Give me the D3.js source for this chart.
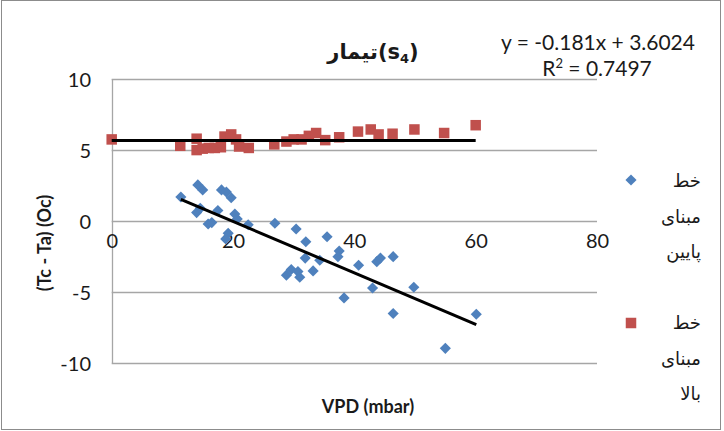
<!DOCTYPE html>
<html>
<head>
<meta charset="utf-8">
<script src="https://cdn.jsdelivr.net/npm/d3@7"></script>
<style>
  html, body { margin: 0; padding: 0; background: #fff; }
  svg { display: block; }
  text { font-family: Lato, "DejaVu Sans", sans-serif; fill: #1a1a1a; }
</style>
</head>
<body>
<svg id="chart" width="724" height="431"></svg>
<script>
// ---------- data ----------
const lowerX = [11.4, 14.2, 15.0, 14.0, 14.6, 15.9, 16.5, 17.5, 18.1, 18.9, 19.7, 19.2, 18.8, 20.3, 20.7, 22.5,
                26.9, 30.4, 32.0, 35.5, 31.9, 34.3, 28.8, 29.6, 30.7, 31.0, 33.2, 37.5, 37.3, 40.7, 38.3,
                43.0, 43.7, 44.3, 46.4, 49.8, 46.4, 55.0, 60.1];
const lowerY = [1.7, 2.55, 2.2, 0.6, 0.9, -0.2, -0.1, 0.75, 2.2, 2.05, 1.65, -0.85, -1.25, 0.5, 0.15, -0.25,
                -0.15, -0.55, -1.45, -1.1, -2.6, -2.75, -3.8, -3.4, -3.55, -3.95, -3.5, -2.1, -2.5, -3.1, -5.4,
                -4.7, -2.85, -2.6, -2.5, -4.65, -6.5, -8.95, -6.55];
const upperX = [0, 11.3, 14.0, 14.0, 15.0, 16.0, 17.0, 18.0, 18.6, 19.7, 20.5, 21.0, 22.6, 26.8, 28.8, 30.0,
                31.3, 32.5, 33.7, 35.2, 37.5, 40.6, 42.7, 44.0, 46.3, 49.9, 54.8, 60.0];
const upperY = [5.75, 5.3, 5.8, 5.0, 5.1, 5.15, 5.15, 5.2, 5.95, 6.1, 5.75, 5.25, 5.15, 5.4, 5.6, 5.75,
                5.75, 6.0, 6.2, 5.7, 5.9, 6.3, 6.45, 6.1, 6.15, 6.45, 6.2, 6.75];
// trend lines: [slope, intercept, xStart, xEnd]
const lowerTrend = [-0.181, 3.6024, 11.4, 60.1];
const upperTrend = [0, 5.68, 0, 60.0];

const xTicks = [0, 20, 40, 60, 80];
const yTicks = [-10, -5, 0, 5, 10];
const titleMain = "تیمار";
const titleSub = "4";
const equationText = "y = -0.181x + 3.6024";
const r2Value = "0.7497";
const xTitle = "VPD (mbar)";
const yTitle = "(Tc - Ta) (Oc)";
const legendLower = ["خط", "مبنای", "پایین"];
const legendUpper = ["خط", "مبنای", "بالا"];

// ---------- colours ----------
const blue = "#4F81BD", red = "#C0504D", grid = "#a6a6a6";

const svg = d3.select("#chart");
svg.append("rect").attr("x", 1.5).attr("y", 0.5).attr("width", 719).attr("height", 429)
   .attr("fill", "#fff").attr("stroke", "#8c8c8c").attr("stroke-width", 1);

const x = d3.scaleLinear().domain([0, 80]).range([111.7, 597]);
const y = d3.scaleLinear().domain([-10, 10]).range([363.3, 79]);
const plainFmt = d => String(d);

// gridlines
svg.append("g").selectAll("line").data(yTicks).join("line")
  .attr("x1", x(0)).attr("x2", x(80))
  .attr("y1", d => Math.round(y(d)) + 0.5).attr("y2", d => Math.round(y(d)) + 0.5)
  .attr("stroke", grid).attr("stroke-width", 1.3);
// y axis line
svg.append("line").attr("x1", Math.round(x(0)) + 0.5).attr("x2", Math.round(x(0)) + 0.5)
  .attr("y1", y(10)).attr("y2", y(-10)).attr("stroke", grid).attr("stroke-width", 1.3);

// y axis tick labels
const yAxis = d3.axisLeft(y).tickValues(yTicks).tickFormat(plainFmt).tickSize(0).tickPadding(0);
const gy = svg.append("g").attr("transform", "translate(91,0)").call(yAxis);
gy.select(".domain").remove();
gy.selectAll("text").style("font-family", "Lato, sans-serif").style("font-size", "20px").attr("fill", "#262626").attr("dy", "0.36em");

// x axis tick labels (axis crosses at y=0)
const xAxis = d3.axisBottom(x).tickValues(xTicks).tickFormat(plainFmt).tickSize(0).tickPadding(0);
const gx = svg.append("g").attr("transform", `translate(0,${y(0) + 20})`).call(xAxis);
gx.select(".domain").remove();
gx.selectAll("text").style("font-family", "Lato, sans-serif").style("font-size", "20px").attr("fill", "#262626").attr("dy", "0.36em");

// markers: upper (squares)
const sq = 10.5;
svg.append("g").selectAll("rect").data(upperX.map((v, i) => [v, upperY[i]])).join("rect")
  .attr("x", d => x(d[0]) - sq / 2).attr("y", d => y(d[1]) - sq / 2)
  .attr("width", sq).attr("height", sq).attr("fill", red);

// markers: lower (diamonds)
const diamond = d3.symbol().type(d3.symbolSquare).size(62);
svg.append("g").selectAll("path").data(lowerX.map((v, i) => [v, lowerY[i]])).join("path")
  .attr("d", diamond)
  .attr("transform", d => `translate(${x(d[0])},${y(d[1])}) rotate(45)`)
  .attr("fill", blue);

// trend lines
const line = d3.line().x(d => x(d[0])).y(d => y(d[1]));
[upperTrend, lowerTrend].forEach(t => {
  const pts = [t[2], t[3]].map(v => [v, t[0] * v + t[1]]);
  svg.append("path").attr("d", line(pts)).attr("stroke", "#000").attr("stroke-width", 3)
    .attr("fill", "none");
});

// title
const title = svg.append("text").attr("x", 373).attr("y", 59).attr("text-anchor", "middle")
  .style("font-size", "21px").style("font-weight", "bold").style("font-family", "'DejaVu Sans', Lato, sans-serif");
title.append("tspan").text(titleMain + "(s");
title.append("tspan").text(titleSub).style("font-size", "13px").attr("dy", 4);
title.append("tspan").text(")").attr("dy", -4);

// equation
svg.append("text").attr("x", 598).attr("y", 50).attr("text-anchor", "middle")
  .style("font-size", "21px").style("font-family", "Lato, sans-serif").attr("fill", "#262626").text(equationText);
const r2 = svg.append("text").attr("x", 597).attr("y", 76).attr("text-anchor", "middle")
  .style("font-size", "21px").style("font-family", "Lato, sans-serif").attr("fill", "#262626");
r2.append("tspan").text("R");
r2.append("tspan").text("2").style("font-size", "13px").attr("dy", -8);
r2.append("tspan").text(" = " + r2Value).attr("dy", 8);

// axis titles
svg.append("text").attr("x", 368).attr("y", 413).attr("text-anchor", "middle")
  .style("font-size", "18px").style("font-weight", "bold").text(xTitle);
svg.append("text").attr("transform", "translate(51,243) rotate(-90)").attr("text-anchor", "middle")
  .style("font-size", "18px").style("font-weight", "bold").text(yTitle);

// legend
const legend = svg.append("g");
legend.append("path").attr("d", d3.symbol().type(d3.symbolSquare).size(62)())
  .attr("transform", "translate(631,180) rotate(45)").attr("fill", blue);
legend.append("rect").attr("x", 631 - sq / 2).attr("y", 323 - sq / 2).attr("width", sq).attr("height", sq).attr("fill", red);
const lineGap = 35.5;
legendLower.forEach((t, i) => legend.append("text").attr("x", 701).attr("y", 187 + i * lineGap)
  .attr("text-anchor", "end").style("font-size", "18px").style("font-family", "'DejaVu Sans', sans-serif").text(t));
legendUpper.forEach((t, i) => legend.append("text").attr("x", 701).attr("y", 329 + i * lineGap)
  .attr("text-anchor", "end").style("font-size", "18px").style("font-family", "'DejaVu Sans', sans-serif").text(t));
</script>
</body>
</html>
